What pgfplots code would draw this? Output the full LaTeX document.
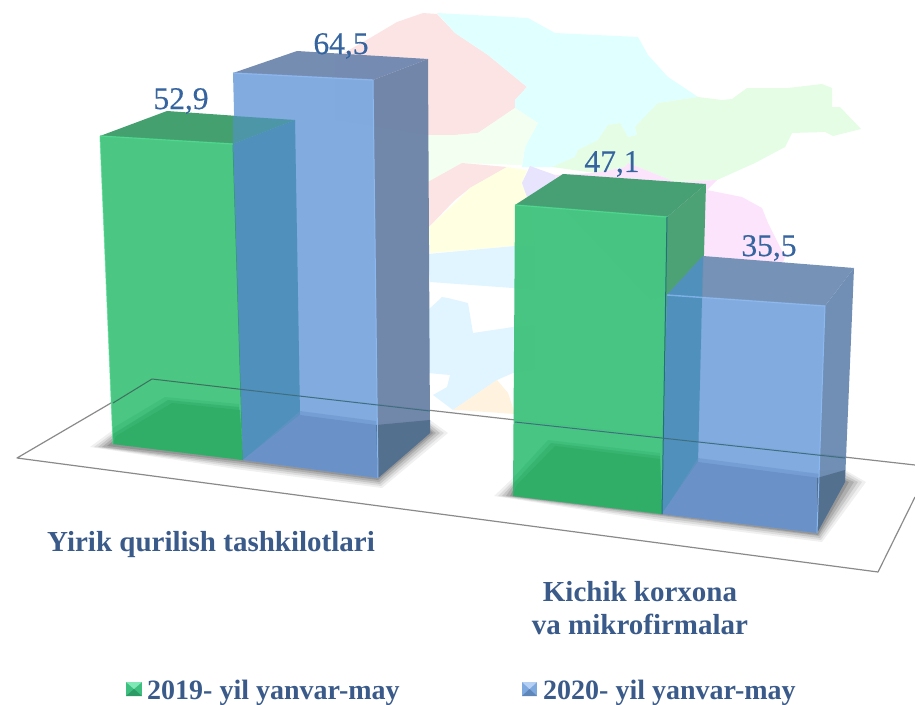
\documentclass[border=0pt]{standalone}
\usepackage{fontspec}
\setmainfont{Liberation Serif}
\newfontfamily\valfont[FakeBold=0.4]{Liberation Serif}
\usepackage{pgfplots}
\pgfplotsset{compat=1.18}
\definecolor{lblblue}{HTML}{35649F}
\definecolor{catblue}{HTML}{3A5A8A}
\newcommand{\poly}[3]{\xglobal\definecolor{H#1}{HTML}{#1}\addplot[fill=H#1,draw=none,#2] coordinates {#3} --cycle;}
\newcommand{\lin}[3]{\xglobal\definecolor{H#1}{HTML}{#1}\addplot[color=H#1,#2] coordinates {#3};}
\begin{document}
\begin{tikzpicture}
\begin{axis}[
  scale only axis, width=915pt, height=704pt,
  xmin=0, xmax=915, ymin=0, ymax=704, y dir=reverse,
  axis line style={draw=none}, ticks=none, clip=true,
  every axis plot/.append style={no markers, line join=round},
]
% map regions
\poly{FDE4E4}{}{(335,58)(370,38)(397,22)(423,13)(437,14)(455,33)(488,55)(527,87)(515,100)(515,108)(478,133)(455,135)(428,135)(335,120)}
\poly{E0FFFF}{}{(437,13)(528,18)(555,33)(638,37)(648,55)(668,77)(698,97)(658,103)(635,127)(637,135)(628,137)(620,123)(608,125)(598,140)(578,150)(575,157)(552,167)(522,167)(525,147)(538,123)(515,108)(515,100)(527,87)(488,55)(455,33)}
\poly{E4FDE4}{}{(658,103)(698,97)(722,100)(732,99)(747,88)(788,88)(822,84)(832,88)(832,107)(840,107)(861,129)(833,136)(825,132)(792,133)(785,147)(755,163)(717,180)(675,182)(628,163)(625,167)(595,173)(552,167)(575,157)(578,150)(598,140)(608,125)(620,123)(628,137)(637,135)(635,127)}
\poly{F3FFF0}{}{(428,135)(455,135)(478,133)(515,108)(538,123)(525,147)(522,165)(462,163)(440,178)(428,182)}
\poly{FDE4E4}{}{(428,182)(462,163)(507,167)(470,188)(455,200)(428,228)}
\poly{FFFFE2}{}{(428,228)(455,203)(470,188)(507,167)(527,170)(522,183)(530,205)(535,246)(515,246)(430,253)}
\poly{E0F5FF}{}{(428,254)(515,246)(535,246)(535,290)(513,288)(430,282)}
\poly{E0F5FF}{}{(428,310)(442,297)(448,298)(468,303)(473,333)(513,327)(535,325)(535,370)(513,373)(497,380)(453,410)(433,395)(447,387)(450,375)(428,373)}
\poly{FFF2DE}{}{(453,410)(497,380)(508,393)(515,414)(458,410)}
\poly{E8E4FD}{}{(530,166)(555,175)(600,175)(560,205)(527,205)(527,197)(522,183)}
\poly{FCE4FC}{}{(555,175)(595,173)(625,167)(628,163)(675,182)(717,180)(707,190)(742,197)(762,208)(768,223)(785,257)(780,270)(650,300)(560,205)}
% floor
\lin{8A8A8A}{line width=1.2pt}{(915,497)(878,572)(17,458)(152,379)(915,465)}
% shadows
\poly{000000}{fill opacity=0.06}{(90,447)(113,430)(430,420)(448,433)(382,488)(243,470)}
\poly{000000}{fill opacity=0.08}{(94,447)(113,433)(430,423)(444,433)(381,486)(243,468)}
\poly{000000}{fill opacity=0.10}{(98,447)(113,435)(430,425)(440,433)(380,484)(243,466)}
\poly{000000}{fill opacity=0.12}{(102,447)(113,438)(430,428)(436,433)(379,482)(243,464)}
\poly{000000}{fill opacity=0.14}{(107,446)(113,441)(430,430)(433,433)(378,480)(243,462)}
\poly{000000}{fill opacity=0.06}{(494,496)(513,478)(845,470)(866,482)(822,542)(662,522)}
\poly{000000}{fill opacity=0.08}{(498,496)(513,481)(845,472)(862,482)(821,540)(662,520)}
\poly{000000}{fill opacity=0.10}{(502,496)(513,484)(845,475)(858,482)(820,538)(662,518)}
\poly{000000}{fill opacity=0.12}{(506,496)(513,486)(845,478)(854,482)(819,536)(662,516)}
\poly{000000}{fill opacity=0.14}{(510,496)(513,490)(845,480)(849,482)(818,535)(662,515)}
% bar 1, 2019: 52,9
\poly{45A070}{fill opacity=0.96}{(233,144)(295,120)(300,415)(243,460)}
\poly{44A06E}{}{(100,136)(167,111)(295,120)(233,144)}
\poly{47C681}{fill opacity=0.98}{(100,136)(233,144)(243,460)(113,444)}
\lin{3F6F5F}{line width=1pt}{(113,403)(152,379)(238,389)}
\poly{2FAD67}{fill opacity=0.3}{(113,444)(113,428)(165,397)(239,404)(243,460)}
\poly{2FAD67}{fill opacity=0.5}{(113,444)(113,434)(168,400)(239,407)(243,460)}
\poly{2FAD67}{fill opacity=0.8}{(113,444)(116,436)(172,403)(240,410)(243,460)}
\lin{2E9A66}{line width=1pt}{(233,144)(243,460)}
\lin{4CD98E}{line width=1.4pt,opacity=.8}{(100,136)(233,144)}
\lin{4CD98E}{line width=1pt,opacity=.6}{(100,136)(113,444)}
% bar 1, 2020: 64,5
\poly{6A82A6}{fill opacity=0.95}{(373,80)(428,59)(430,433)(378,478)}
\poly{7289B0}{fill opacity=0.97}{(233,73)(297,51)(428,59)(373,80)}
\poly{7EA9DF}{fill opacity=0.97}{(233,73)(373,80)(378,478)(243,460)}
\poly{4F90BC}{}{(233,144)(295,120)(300,415)(243,460)}
\poly{4D96A8}{}{(233,116)(295,120)(233,144)}
\poly{6A92C8}{fill opacity=0.5}{(243,460)(300,411)(376,421)(378,478)}
\poly{6A92C8}{}{(243,460)(300,415)(376,425)(378,478)}
\poly{54708F}{}{(378,478)(376,425)(430,420)(430,433)}
\lin{8CB8F0}{line width=1.4pt,opacity=.8}{(233,73)(373,80)}
\lin{8CB8F0}{line width=1pt}{(373,80)(378,478)}
% floor back edge seen through bars
\lin{3F6F7F}{line width=1pt}{(238,389)(430,411)}
% bar 2, 2019: 47,1
\poly{45A070}{fill opacity=0.96}{(667,217)(706,184)(698,462)(662,514)}
\poly{47A073}{}{(515,205)(563,174)(706,184)(667,217)}
\poly{44C480}{fill opacity=0.98}{(515,205)(667,217)(662,514)(513,496)}
\poly{2FAD67}{fill opacity=0.3}{(513,496)(513,478)(548,440)(660,453)(662,514)}
\poly{2FAD67}{fill opacity=0.5}{(513,496)(513,484)(551,443)(660,456)(662,514)}
\poly{2FAD67}{fill opacity=0.8}{(513,496)(516,486)(555,446)(660,459)(662,514)}
\lin{4CD98E}{line width=1.4pt,opacity=.8}{(515,205)(667,217)}
% bar 2, 2020: 35,5
\poly{6686AE}{fill opacity=0.93}{(825,306)(854,268)(845,482)(817,533)}
\poly{7290B5}{fill opacity=0.97}{(667,295)(703,256)(854,268)(825,306)}
\poly{7EA9DF}{fill opacity=0.97}{(667,295)(825,306)(817,533)(662,514)}
\poly{4F90BC}{}{(667,295)(703,256)(698,462)(662,514)}
\poly{6A92C8}{fill opacity=0.5}{(662,514)(698,458)(820,474)(817,533)}
\poly{6A92C8}{}{(662,514)(698,462)(820,478)(817,533)}
\poly{54708F}{}{(817,533)(817,478)(845,470)(845,482)}
\lin{8CB8F0}{line width=1.4pt,opacity=.8}{(667,295)(825,306)}
\lin{8CB8F0}{line width=1pt}{(825,306)(817,533)}
\lin{22707A}{line width=1pt}{(667,217)(662,514)}
\lin{3F6F7F}{line width=1pt}{(515,422)(845,458)}
% value labels
\node[lblblue,font=\valfont\fontsize{31.5pt}{34pt}\selectfont] at (axis cs:181,101) {52,9};
\node[lblblue,font=\valfont\fontsize{31.5pt}{34pt}\selectfont] at (axis cs:341,46) {64,5};
\node[lblblue,font=\valfont\fontsize{31.5pt}{34pt}\selectfont] at (axis cs:612,164) {47,1};
\node[lblblue,font=\valfont\fontsize{31.5pt}{34pt}\selectfont] at (axis cs:769,248) {35,5};
% categories
\node[catblue,font=\bfseries\fontsize{29pt}{34pt}\selectfont] at (axis cs:211,545) {Yirik qurilish tashkilotlari};
\node[catblue,font=\bfseries\fontsize{29pt}{33pt}\selectfont,align=center] at (axis cs:640,608) {Kichik korxona\\va mikrofirmalar};
% legend
\poly{3FBF7F}{}{(126,682)(142,682)(142,696)(126,696)}
\poly{7FE8B4}{}{(126,682)(142,682)(134,689)}
\poly{2E9A66}{}{(126,696)(142,696)(134,689)}
\poly{7EA9DF}{}{(522,682)(537,682)(537,696)(522,696)}
\poly{B5D0F2}{}{(522,682)(537,682)(529.5,689)}
\poly{5F86B8}{}{(522,696)(537,696)(529.5,689)}
\node[catblue,font=\bfseries\fontsize{28pt}{30pt}\selectfont,anchor=base west,inner sep=0pt] at (axis cs:147,699) {2019- yil yanvar-may};
\node[catblue,font=\bfseries\fontsize{28pt}{30pt}\selectfont,anchor=base west,inner sep=0pt] at (axis cs:543,699) {2020- yil yanvar-may};
\end{axis}
\end{tikzpicture}
\end{document}
